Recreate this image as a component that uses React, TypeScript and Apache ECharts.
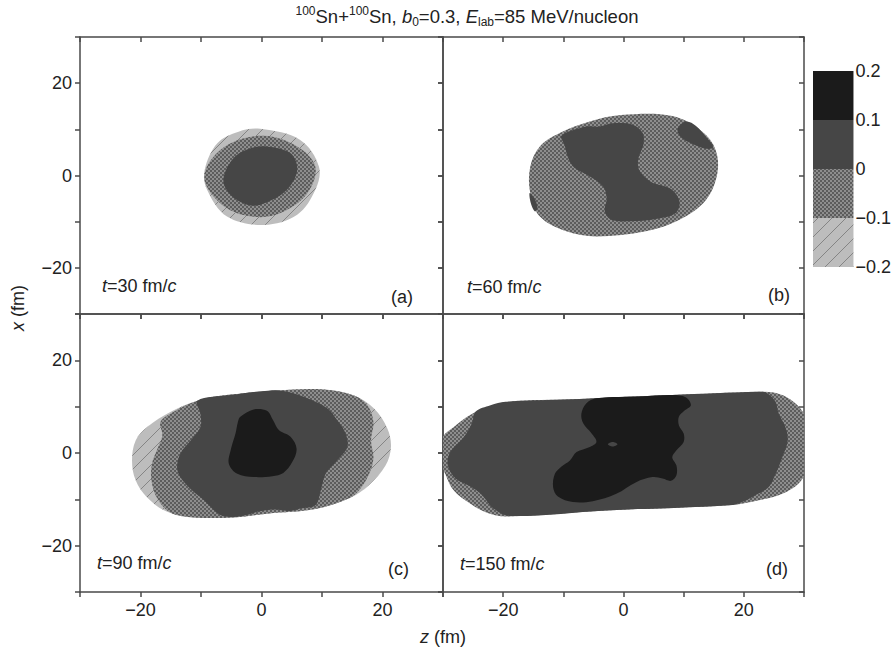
import React, { useEffect, useRef } from "react";
import * as echarts from "echarts";

// ---- axis / legend values ----
const Z_RANGE = [-30, 30];
const X_RANGE = [-30, 30];
const TICK_STEP = 10;
const LABELED_TICKS = [-20, 0, 20];
const CB_LEVELS = [-0.2, -0.1, 0, 0.1, 0.2];
const PANEL_TIMES = ["30", "60", "90", "150"];
const PANEL_TAGS = ["(a)", "(b)", "(c)", "(d)"];

// ---- contour regions, [z, x] in fm; level index: 0 = [-0.2,-0.1], 1 = [-0.1,0], 2 = [0,0.1], 3 = [0.1,0.2] ----
// (a) t = 30 fm/c
const A_LVL0 = [[-0.2,10.1],[-3.8,9.5],[-7.3,7.0],[-9.4,1.2],[-9.0,-3.1],[-5.7,-8.9],[0.4,-10.7],[5.9,-8.5],[8.9,-3.1],[9.5,1.9],[6.4,7.7]];
const A_LVL1 = [[0.4,8.6],[-5.1,7.0],[-8.7,2.7],[-9.3,-1.6],[-5.7,-7.1],[-0.7,-9.0],[3.7,-7.8],[7.6,-3.8],[8.9,1.9],[5.9,6.3]];
const A_LVL2 = [[0.9,6.3],[-1.8,5.9],[-4.6,3.8],[-6.3,-0.9],[-5.1,-4.2],[-1.8,-6.5],[0.9,-5.8],[4.2,-3.1],[5.9,1.2],[4.8,4.8]];

// (b) t = 60 fm/c
const B_LVL1 = [[-15.5,1.9],[-13.9,6.3],[-10.6,9.2],[-5.6,11.7],[-0.4,13.1],[8.1,12.9],[13.1,9.5],[15.3,5.6],[15.6,0.5],[13.7,-5.3],[9.3,-9.6],[3.7,-12.1],[-4.5,-13.2],[-9.5,-12.1],[-13.9,-8.9],[-15.5,-3.8]];
const B_LVL2_MAIN = [[-10.3,8.6],[-6.2,10.6],[-4.0,10.6],[-1.8,11.3],[1.5,11.0],[3.2,9.2],[3.3,6.6],[2.5,3.8],[2.6,1.2],[4.6,-1.4],[7.9,-2.9],[9.3,-5.6],[8.7,-8.1],[5.4,-9.4],[1.0,-9.9],[-2.0,-9.6],[-3.1,-7.8],[-2.8,-4.9],[-3.4,-2.4],[-5.6,-0.2],[-8.1,1.6],[-9.2,3.8],[-9.8,6.6]];
const B_LVL2_NE = [[9.0,10.2],[10.4,11.7],[12.0,10.8],[13.7,8.4],[14.9,6.1],[13.7,5.8],[11.5,6.8],[9.5,8.4]];
const B_LVL2_W = [[-15.6,-3.8],[-14.8,-5.0],[-14.3,-7.0],[-14.7,-7.8],[-15.4,-6.0]];

// (c) t = 90 fm/c
const C_LVL0 = [[-21.4,-1.6],[-20.8,2.7],[-18.9,5.6],[-15.0,8.9],[-10.6,11.3],[-5.1,12.6],[2.6,13.5],[10.3,13.7],[15.3,12.4],[18.6,9.6],[20.8,5.3],[21.4,1.3],[20.5,-2.7],[17.7,-7.0],[14.6,-9.7],[8.9,-12.1],[0.9,-13.1],[-4.6,-13.9],[-11.2,-13.9],[-15.6,-12.7],[-18.9,-9.6],[-20.8,-5.9]];
const C_LVL1 = [[-16.7,6.7],[-14.5,8.9],[-10.6,11.3],[-5.1,12.6],[2.6,13.5],[10.3,13.7],[15.3,12.4],[17.5,10.3],[18.5,6.7],[18.1,2.7],[18.5,-1.2],[17.7,-4.8],[16.1,-8.1],[14.6,-9.7],[8.9,-12.1],[0.9,-13.1],[-4.6,-13.9],[-11.2,-13.9],[-15.0,-12.9],[-17.2,-9.9],[-18.2,-5.9],[-18.1,-2.3],[-17.2,0.9],[-16.4,3.8]];
const C_LVL2 = [[-10.6,11.3],[-5.1,12.5],[1.5,13.5],[4.2,13.2],[7.6,11.8],[10.9,9.6],[12.5,7.1],[13.9,4.2],[14.2,1.3],[12.5,-1.6],[10.6,-4.5],[9.8,-8.1],[8.9,-11.3],[6.4,-12.0],[4.8,-12.5],[2.0,-12.2],[-0.7,-12.7],[-2.5,-13.4],[-4.6,-13.8],[-6.8,-13.4],[-9.5,-10.2],[-12.3,-7.0],[-13.9,-3.7],[-13.4,-0.1],[-11.7,2.7],[-10.1,5.6],[-10.1,8.5]];
const C_LVL3 = [[-3.5,7.8],[-1.3,9.4],[0.9,9.1],[1.9,7.1],[2.9,4.9],[4.8,3.5],[5.8,0.9],[5.1,-1.9],[3.6,-4.3],[1.8,-5.0],[-1.3,-5.2],[-4.0,-4.5],[-5.4,-2.3],[-5.1,0.6],[-4.3,4.2],[-3.9,6.7]];

// (d) t = 150 fm/c
const D_LVL1 = [[-30.4,2.0],[-29.9,3.8],[-28.2,5.6],[-26.0,7.8],[-23.3,9.6],[-18.8,11.1],[-8.4,11.6],[8.1,12.5],[22.5,13.2],[24.7,13.1],[27.2,12.0],[29.4,9.6],[30.8,6.0],[31.1,0.0],[30.5,-3.5],[29.1,-6.6],[26.4,-8.8],[22.5,-10.2],[18.1,-11.2],[-2.9,-12.4],[-19.4,-13.7],[-22.7,-12.9],[-25.5,-10.9],[-28.2,-8.1],[-29.9,-3.7],[-30.4,-2.0]];
const D_LVL2 = [[-19.6,11.05],[-8.4,11.6],[8.1,12.5],[22.5,13.2],[23.6,13.1],[25.2,11.2],[25.8,8.5],[26.9,5.6],[27.3,2.7],[26.4,-0.9],[25.3,-4.5],[24.1,-7.4],[21.9,-9.1],[20.0,-10.4],[18.1,-11.2],[-2.9,-12.4],[-18.8,-13.6],[-21.6,-12.0],[-23.5,-9.1],[-25.5,-7.2],[-27.9,-5.5],[-29.2,-2.7],[-28.8,0.2],[-26.5,3.5],[-25.2,6.4],[-24.6,8.9],[-22.1,10.3]];
const D_LVL3 = [[-4.5,11.8],[3.0,12.2],[8.1,12.5],[10.4,12.0],[11.2,10.3],[10.1,9.1],[9.2,7.8],[9.2,6.0],[10.0,4.2],[10.0,2.4],[8.8,0.6],[8.1,-0.9],[8.8,-2.7],[8.8,-4.8],[7.9,-6.0],[6.5,-5.5],[4.8,-5.2],[2.1,-6.3],[-1.2,-8.8],[-5.1,-10.4],[-8.4,-10.6],[-10.9,-9.4],[-11.7,-7.4],[-11.4,-4.5],[-10.3,-2.9],[-8.9,-1.6],[-7.8,0.2],[-5.6,1.3],[-4.5,2.4],[-5.3,4.2],[-6.7,6.4],[-7.0,8.5],[-6.2,10.7]];
const D_HOLE = [[-2.6,1.9],[-1.8,2.4],[-1.0,1.9],[-1.8,1.4]];

const PANEL_SHAPES = [
  [{ lvl: 0, pts: A_LVL0 }, { lvl: 1, pts: A_LVL1 }, { lvl: 2, pts: A_LVL2 }],
  [{ lvl: 1, pts: B_LVL1 }, { lvl: 2, pts: B_LVL2_MAIN }, { lvl: 2, pts: B_LVL2_NE }, { lvl: 2, pts: B_LVL2_W }],
  [{ lvl: 0, pts: C_LVL0 }, { lvl: 1, pts: C_LVL1 }, { lvl: 2, pts: C_LVL2 }, { lvl: 3, pts: C_LVL3 }],
  [{ lvl: 1, pts: D_LVL1 }, { lvl: 2, pts: D_LVL2 }, { lvl: 3, pts: D_LVL3 }, { lvl: 2, pts: D_HOLE }],
];

const FONT = '"Liberation Sans", Arial, Helvetica, sans-serif';
const TXT = "#222";
const AXIS_COLOR = "#4a4a4a";

function makeCross() {
  const c = document.createElement("canvas");
  c.width = 4; c.height = 4;
  const g = c.getContext("2d")!;
  g.fillStyle = "#8e8e8e"; g.fillRect(0, 0, 4, 4);
  g.fillStyle = "#5c5c5c"; g.fillRect(0, 0, 2, 2); g.fillRect(2, 2, 2, 2);
  return c;
}
function makeHatch() {
  const s = 14;
  const c = document.createElement("canvas");
  c.width = s; c.height = s;
  const g = c.getContext("2d")!;
  g.fillStyle = "#bdbdbd"; g.fillRect(0, 0, s, s);
  g.strokeStyle = "#858585"; g.lineWidth = 1;
  g.beginPath();
  g.moveTo(-1, 1); g.lineTo(1, -1);
  g.moveTo(0, s); g.lineTo(s, 0);
  g.moveTo(s - 1, s + 1); g.lineTo(s + 1, s - 1);
  g.stroke();
  return c;
}

const fmtInt = (v: number) => (v < 0 ? "\u2212" : "") + Math.abs(v);
const fmtCb = (v: number) => {
  const r = Math.round(v * 10) / 10;
  if (r === 0) return "0";
  return (r < 0 ? "\u2212" : "") + Math.abs(r).toFixed(1);
};

export default function App() {
  const ref = useRef<HTMLDivElement>(null);
  useEffect(() => {
    if (!ref.current) return;
    const chart = echarts.init(ref.current, undefined, { renderer: "svg" });
    const fills: any[] = [
      { image: makeHatch(), repeat: "repeat" },
      { image: makeCross(), repeat: "repeat" },
      "#464646",
      "#1b1b1b",
    ];
    const grids = [
      { left: 80, top: 37, width: 363, height: 277 },
      { left: 443, top: 37, width: 361, height: 277 },
      { left: 80, top: 314, width: 363, height: 278 },
      { left: 443, top: 314, width: 361, height: 278 },
      { left: 813, top: 71, width: 41, height: 196 },
    ];
    const lineStyle = { color: AXIS_COLOR, width: 1.5 };
    const labelStyle = { fontSize: 18, fontFamily: FONT, color: TXT };
    const xAxes: any[] = [];
    const yAxes: any[] = [];
    for (let i = 0; i < 4; i++) {
      const showX = i >= 2;
      const showY = i % 2 === 0;
      const common = {
        gridIndex: i, type: "value", interval: TICK_STEP,
        splitLine: { show: false },
        axisLine: { show: true, onZero: false, lineStyle },
      };
      xAxes.push({
        ...common, min: Z_RANGE[0], max: Z_RANGE[1], position: "bottom",
        axisTick: { show: true, inside: false, length: 5, lineStyle },
        axisLabel: {
          show: showX, margin: 9, ...labelStyle,
          formatter: (v: number) => (LABELED_TICKS.includes(v) ? fmtInt(v) : ""),
        },
      });
      xAxes.push({
        ...common, min: Z_RANGE[0], max: Z_RANGE[1], position: "top",
        axisTick: { show: true, inside: true, length: 5, lineStyle },
        axisLabel: { show: false },
      });
      yAxes.push({
        ...common, min: X_RANGE[0], max: X_RANGE[1], position: "left",
        axisTick: { show: true, inside: false, length: 5, lineStyle },
        axisLabel: {
          show: showY, margin: 8, ...labelStyle,
          formatter: (v: number) => (LABELED_TICKS.includes(v) ? fmtInt(v) : ""),
        },
      });
      yAxes.push({
        ...common, min: X_RANGE[0], max: X_RANGE[1], position: "right",
        axisTick: { show: true, inside: true, length: 5, lineStyle },
        axisLabel: { show: false },
      });
    }
    // colour-bar axes
    xAxes.push({ gridIndex: 4, type: "value", min: 0, max: 1, show: false });
    yAxes.push({
      gridIndex: 4, type: "value", min: CB_LEVELS[0], max: CB_LEVELS[CB_LEVELS.length - 1],
      interval: 0.1, position: "right",
      axisLine: { show: false }, axisTick: { show: false }, splitLine: { show: false },
      axisLabel: { margin: 2, ...labelStyle, formatter: fmtCb },
    });

    const series: any[] = PANEL_SHAPES.map((shapes, i) => ({
      type: "custom",
      xAxisIndex: 2 * i,
      yAxisIndex: 2 * i,
      clip: true,
      silent: true,
      data: shapes.map((_, k) => [k]),
      renderItem: (params: any, api: any) => {
        const s = shapes[params.dataIndex];
        const pts = s.pts.map((p: number[]) => api.coord(p));
        return {
          type: "polygon",
          shape: { points: pts, smooth: 0.35 },
          style: { fill: fills[s.lvl], stroke: null },
        };
      },
    }));
    series.push({
      type: "custom",
      xAxisIndex: 8,
      yAxisIndex: 8,
      silent: true,
      data: CB_LEVELS.slice(0, -1).map((lo, k) => [lo, CB_LEVELS[k + 1], k]),
      renderItem: (params: any, api: any) => {
        const p0 = api.coord([0, api.value(1)]);
        const p1 = api.coord([1, api.value(0)]);
        return {
          type: "rect",
          shape: { x: p0[0], y: p0[1], width: p1[0] - p0[0], height: p1[1] - p0[1] },
          style: { fill: fills[api.value(2)], stroke: null },
        };
      },
    });

    const rich = {
      n: { fontSize: 18, fontFamily: FONT, fill: TXT },
      i: { fontSize: 18, fontFamily: FONT, fill: TXT, fontStyle: "italic" },
    };
    const tPos = [[102, 286], [467, 287], [97, 563], [460, 564]];
    const tagPos = [[391, 297], [768, 295], [388, 569], [766, 569]];
    const graphics: any[] = [];
    for (let i = 0; i < 4; i++) {
      graphics.push({
        type: "text", x: tPos[i][0], y: tPos[i][1], silent: true,
        style: {
          text: `{i|t}{n|=${PANEL_TIMES[i]} fm/}{i|c}`, rich,
          align: "left", verticalAlign: "middle", fontSize: 18, fontFamily: FONT, fill: TXT,
        },
      });
      graphics.push({
        type: "text", x: tagPos[i][0], y: tagPos[i][1], silent: true,
        style: { text: PANEL_TAGS[i], align: "left", verticalAlign: "middle", fontSize: 18, fontFamily: FONT, fill: TXT },
      });
    }
    graphics.push({
      type: "text", x: 18, y: 308, rotation: Math.PI / 2, silent: true,
      style: { text: "{i|x}{n| (fm)}", rich, align: "center", verticalAlign: "middle", fontSize: 18, fontFamily: FONT, fill: TXT },
    });
    graphics.push({
      type: "text", x: 443, y: 637, silent: true,
      style: { text: "{i|z}{n| (fm)}", rich, align: "center", verticalAlign: "middle", fontSize: 18, fontFamily: FONT, fill: TXT },
    });
    graphics.push({
      type: "text", x: 467, y: 16, silent: true,
      style: {
        text: "{sup|100}{m|Sn+}{sup|100}{m|Sn, }{mi|b}{sub|0}{m|=0.3, }{mi|E}{sub|lab}{m|=85 MeV/nucleon}",
        align: "center", verticalAlign: "middle", fontSize: 18.5, fontFamily: FONT, fill: TXT,
        rich: {
          m: { fontSize: 18.5, fontFamily: FONT, fill: TXT, lineHeight: 23, verticalAlign: "middle" },
          mi: { fontSize: 18.5, fontFamily: FONT, fill: TXT, lineHeight: 23, verticalAlign: "middle", fontStyle: "italic" },
          sup: { fontSize: 12, fontFamily: FONT, fill: TXT, lineHeight: 12, verticalAlign: "top" },
          sub: { fontSize: 12, fontFamily: FONT, fill: TXT, lineHeight: 12, verticalAlign: "bottom" },
        },
      },
    });

    chart.setOption({
      animation: false,
      backgroundColor: "#fff",
      grid: grids,
      xAxis: xAxes,
      yAxis: yAxes,
      series,
      graphic: graphics,
    });
    return () => chart.dispose();
  }, []);
  return (
    <div
      ref={ref}
      style={{ position: "fixed", left: 0, top: 0, width: 894, height: 650, background: "#fff" }}
    />
  );
}
